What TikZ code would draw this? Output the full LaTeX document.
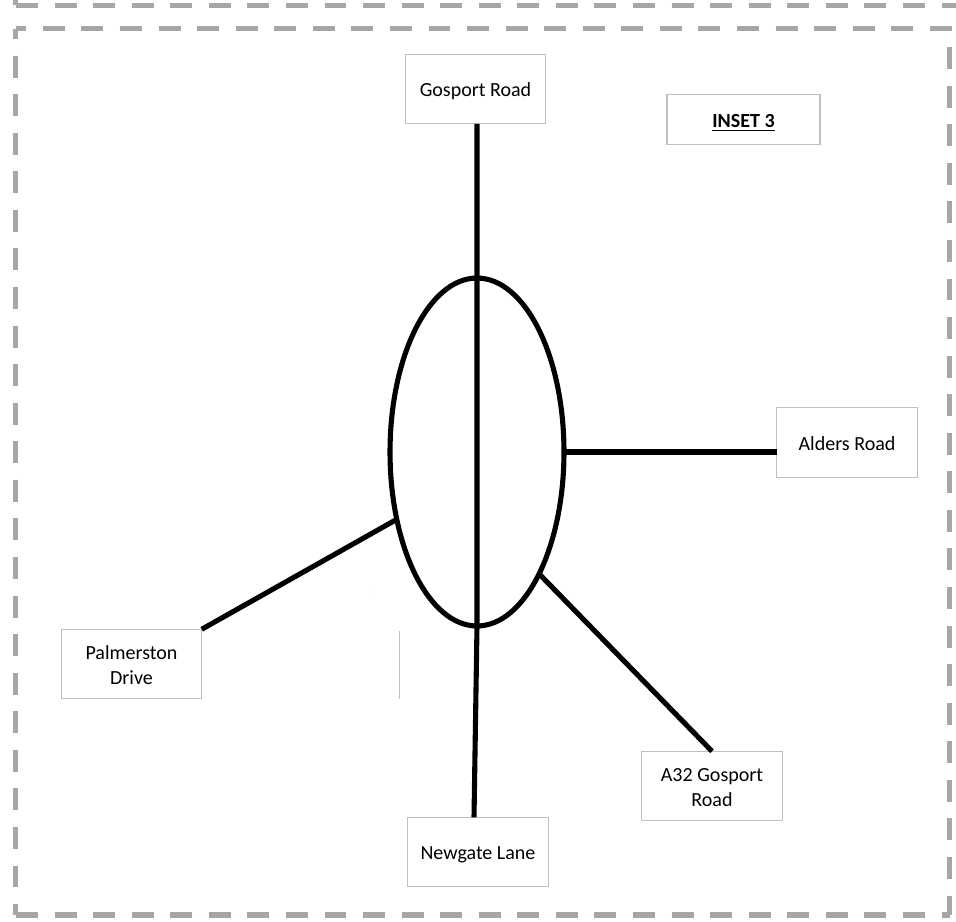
\documentclass[tikz,border=0pt]{standalone}
\usepackage{fontspec}
\setmainfont{Carlito}
\usetikzlibrary{shapes.geometric}
\definecolor{framegrey}{HTML}{A6A6A6}
\definecolor{boxgrey}{HTML}{BFBFBF}
\newcommand{\roadtext}[1]{\raisebox{-1.7pt}[\height][\depth]{\begin{tabular}{@{}c@{}}#1\end{tabular}}}
\tikzset{
  roadbox/.style={draw=boxgrey, line width=0.6pt, minimum width=2.81cm, minimum height=1.39cm, inner sep=0pt, outer sep=0pt, font=\fontsize{11.4}{14.2}\selectfont},
  road/.style={line width=2.9pt},
  frameline/.style={draw=framegrey, line width=3pt, dash pattern=on 12.5pt off 9.45pt}
}
\begin{document}
\begin{tikzpicture}[x=0.02cm, y=-0.02cm]
  \useasboundingbox (0,0) rectangle (956,921);

  % Dashed frames
  \coordinate (TopL) at (16,5.3);
  \coordinate (TopR) at (956,5.3);
  \coordinate (TopS) at (15.5,0);
  \coordinate (FrameTL) at (15.7,28.5);
  \coordinate (FrameTR) at (949.8,28.5);
  \coordinate (FrameBR) at (949.8,915);
  \coordinate (FrameBL) at (15.7,915);
  \coordinate (FrameBS) at (16,915);
  \draw[frameline] (TopL) -- (TopR);
  \draw[frameline] (TopS) -- (TopS |- TopL);
  \draw[frameline, dash phase=6.5pt] (FrameTL) -- (FrameTR) -- (FrameBR);
  \draw[frameline, dash phase=6.5pt] (FrameTL) -- (FrameBL);
  \draw[frameline] (FrameBS) -- (FrameBR);

  % Road boxes
  \node[roadbox] (Gosport) at (475.5,89) {\roadtext{Gosport Road}};
  \node[roadbox, minimum width=3.06cm, minimum height=1cm] (Inset) at (743.5,119.3) {\roadtext{\textbf{\underline{INSET 3}}}};
  \node[roadbox] (Alders) at (847,442.5) {\roadtext{Alders Road}};
  \node[roadbox] (Palmerston) at (131.5,664) {\roadtext{Palmerston\\Drive}};
  \node[roadbox] (Gosporta) at (712,786) {\roadtext{A32 Gosport\\Road}};
  \node[roadbox] (Newgate) at (478,852) {\roadtext{Newgate Lane}};

  % Roundabout
  \node[draw, ellipse, line width=2.9pt, minimum width=3.48cm, minimum height=6.96cm, inner sep=0pt, outer sep=0pt] (Round) at (477,452) {};

  % Roads
  \draw[road] ([xshift=0.03cm]Gosport.south) -- (Round.south);
  \draw[road] (Round.south) -- ([xshift=-0.08cm]Newgate.north);
  \draw[road] (Round.east) -- (Round.east -| Alders.west);
  \draw[road] (Round.220) -- (Palmerston.north east);
  \draw[road] (Round.297) -- (Gosporta.north);

  % Faint marks
  \coordinate (MarkT) at (399.5,631);
  \coordinate (MarkB) at (399.5,699);
  \draw[boxgrey, line width=0.3pt] (MarkT) -- (MarkB);
  \fill[boxgrey] (371,592) circle (0.5);
\end{tikzpicture}
\end{document}
